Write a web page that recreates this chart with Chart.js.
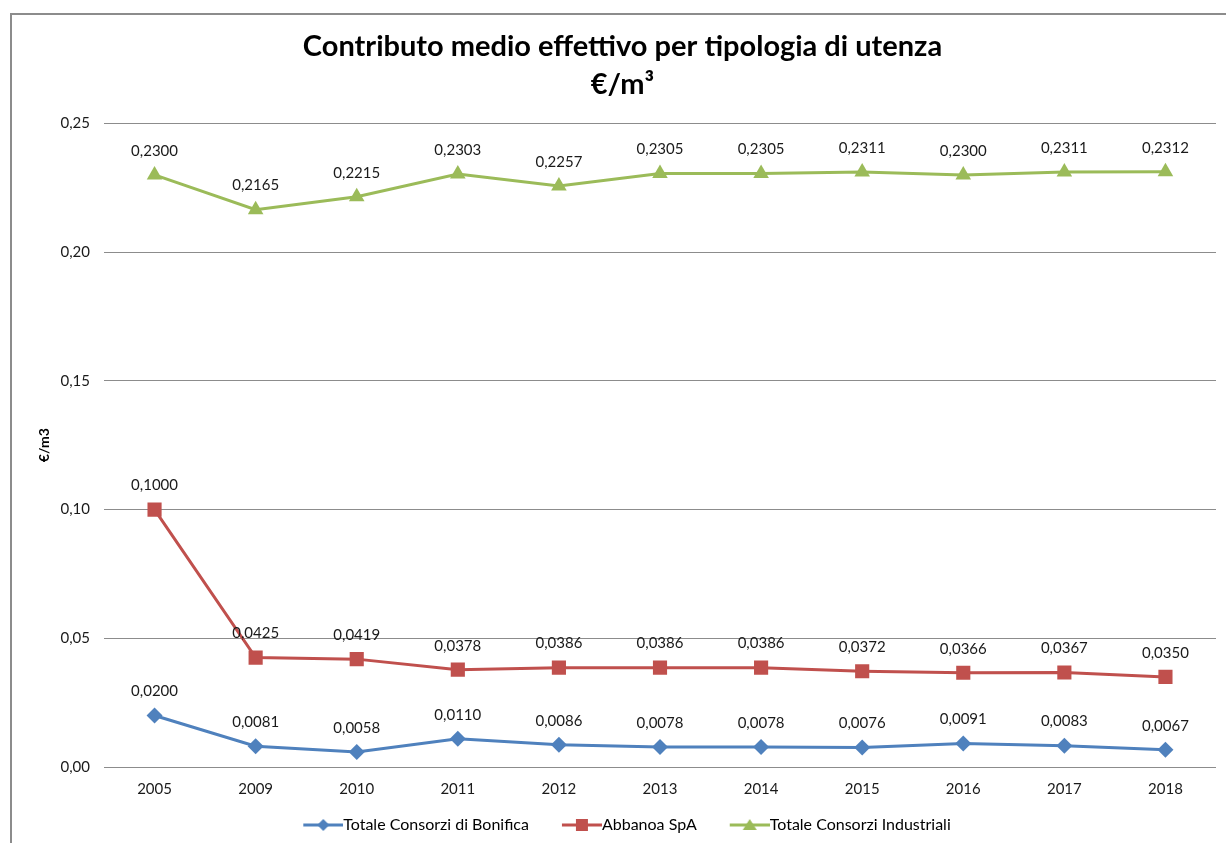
<!DOCTYPE html>
<html>
<head>
<meta charset="utf-8">
<script src="https://cdn.jsdelivr.net/npm/chart.js@4.4.1/dist/chart.umd.min.js"></script>
<style>
  html, body { margin: 0; padding: 0; background: #fff; overflow: hidden; }
  #frame { position: absolute; left: 10px; top: 13px; width: 1400px; height: 1000px;
           border-left: 2px solid #8c8c8c; border-top: 2px solid #8c8c8c; }
  #wrap { position: absolute; left: 0; top: 0; width: 1226px; height: 843px; }
</style>
</head>
<body>
<div id="frame"></div>
<div id="wrap"><canvas id="lineChart" width="1226" height="843"></canvas></div>
<script>
// Years on the category axis
const years = ["2005", "2009", "2010", "2011", "2012", "2013", "2014", "2015", "2016", "2017", "2018"];

// Series values (€/m3)
const bonifica = [0.0200, 0.0081, 0.0058, 0.0110, 0.0086, 0.0078, 0.0078, 0.0076, 0.0091, 0.0083, 0.0067];
const abbanoa = [0.1000, 0.0425, 0.0419, 0.0378, 0.0386, 0.0386, 0.0386, 0.0372, 0.0366, 0.0367, 0.0350];
const industriali = [0.2300, 0.2165, 0.2215, 0.2303, 0.2257, 0.2305, 0.2305, 0.2311, 0.2300, 0.2311, 0.2312];

const seriesNames = ["Totale Consorzi di Bonifica", "Abbanoa SpA", "Totale Consorzi Industriali"];
const colors = ["#4f81bd", "#c0504d", "#9bbb59"];
const markers = ["rectRot", "rect", "triangle"];
const markerRadius = [8, 10, 9];

const FONT = "Lato, 'Open Sans', sans-serif";

// comma decimals like the original
function fmt(v, d) {
  return v.toFixed(d).replace(".", ",");
}

// legend marker: line with the point shape, sitting in the right part of the image
const ICON_BOX = 59;
function legendIcon(color, style) {
  let c = document.createElement("canvas");
  c.width = ICON_BOX + 16; c.height = 16;
  let g = c.getContext("2d");
  let x0 = c.width - 40, cx = c.width - 20, cy = 8;
  g.strokeStyle = color;
  g.fillStyle = color;
  g.lineWidth = 3;
  g.beginPath();
  g.moveTo(x0, cy); g.lineTo(c.width, cy);
  g.stroke();
  g.beginPath();
  if (style === "rectRot") {
    g.moveTo(cx, cy - 6); g.lineTo(cx + 6, cy); g.lineTo(cx, cy + 6); g.lineTo(cx - 6, cy);
  } else if (style === "rect") {
    g.rect(cx - 6, cy - 6, 12, 12);
  } else {
    g.moveTo(cx, cy - 6); g.lineTo(cx + 7, cy + 5); g.lineTo(cx - 7, cy + 5);
  }
  g.closePath();
  g.fill();
  return c;
}

// draws the value above every point
const valueLabels = {
  id: "valueLabels",
  afterDatasetsDraw(chart) {
    let ctx = chart.ctx;
    ctx.save();
    ctx.font = "15px " + FONT;
    ctx.fillStyle = "#1a1a1a";
    ctx.textAlign = "center";
    ctx.textBaseline = "middle";
    chart.data.datasets.forEach((ds, i) => {
      chart.getDatasetMeta(i).data.forEach((pt, j) => {
        ctx.fillText(fmt(ds.data[j], 4), pt.x, pt.y - 24);
      });
    });
    ctx.restore();
  }
};

// the legend in the original sits a bit left of the title's centre
const legendShift = {
  id: "legendShift",
  afterLayout(chart) {
    chart.legend.left -= 9;
    chart.legend.right -= 9;
  }
};

const allSeries = [bonifica, abbanoa, industriali];

let ctx = document.getElementById("lineChart").getContext("2d");
let lineChart = new Chart(ctx, {
  type: "line",
  data: {
    labels: years,
    datasets: allSeries.map((values, i) => ({
      label: seriesNames[i],
      data: values,
      borderColor: colors[i],
      backgroundColor: colors[i],
      borderWidth: 3,
      pointStyle: markers[i],
      pointRadius: markerRadius[i],
      pointBorderWidth: 0,
      tension: 0,
      fill: false,
    })),
  },
  options: {
    responsive: false,
    animation: false,
    layout: { padding: { left: 26, right: 7, top: 0, bottom: 0 } },
    plugins: {
      title: {
        display: true,
        text: ["Contributo medio effettivo per tipologia di utenza", "€/m³"],
        color: "#000",
        font: { family: FONT, size: 29, weight: "bold", lineHeight: 1.3 },
        padding: { top: 28, bottom: 20 },
      },
      legend: {
        position: "bottom",
        labels: {
          color: "#1a1a1a",
          font: { family: FONT, size: 16 },
          usePointStyle: true,
          pointStyleWidth: ICON_BOX,
          padding: 6,
          generateLabels(chart) {
            return chart.data.datasets.map((ds, i) => ({
              text: ds.label,
              pointStyle: legendIcon(colors[i], markers[i]),
              fillStyle: colors[i],
              strokeStyle: colors[i],
              lineWidth: 0,
              datasetIndex: i,
            }));
          },
        },
      },
      tooltip: { enabled: false },
    },
    scales: {
      x: {
        offset: true,
        grid: { display: false, drawTicks: false },
        border: { display: false },
        ticks: { color: "#1a1a1a", font: { family: FONT, size: 15 }, padding: 13, maxRotation: 0 },
      },
      y: {
        min: 0,
        max: 0.25,
        grid: { color: "#8c8c8c", lineWidth: 1, drawTicks: false },
        border: { display: false },
        ticks: {
          stepSize: 0.05,
          color: "#1a1a1a",
          font: { family: FONT, size: 15 },
          padding: 14,
          callback: (v) => fmt(v, 2),
        },
        title: {
          display: true,
          text: "€/m3",
          color: "#000",
          font: { family: FONT, size: 14, weight: "bold" },
          padding: { top: 10, bottom: 0 },
        },
        afterFit(scale) {
          scale.width = 78;
        },
      },
    },
  },
  plugins: [valueLabels, legendShift],
});
</script>
</body>
</html>
